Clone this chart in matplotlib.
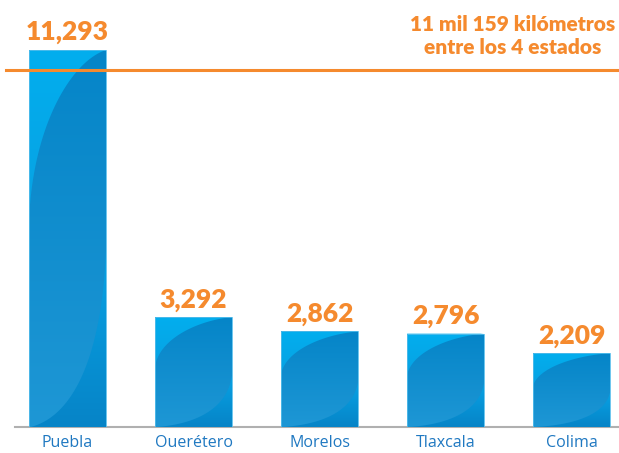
import numpy as np
import matplotlib.pyplot as plt
from matplotlib.patches import Polygon
from matplotlib.colors import LinearSegmentedColormap

estados = ["Puebla", "Ouerétero", "Morelos", "Tlaxcala", "Colima"]
km = [11293, 3292, 2862, 2796, 2209]
etiquetas = ["11,293", "3,292", "2,862", "2,796", "2,209"]
linea_ref = 10700
nota = "11 mil 159 kilómetros\nentre los 4 estados"

naranja = "#F58A2E"


def bezier(p0, p1, p2, p3, n=40):
    t = np.linspace(0, 1, n)[:, None]
    p0, p1, p2, p3 = map(np.array, (p0, p1, p2, p3))
    return (1 - t) ** 3 * p0 + 3 * (1 - t) ** 2 * t * p1 + 3 * (1 - t) * t ** 2 * p2 + t ** 3 * p3


# curvas del brillo, en coordenadas relativas de la barra (u, v)
curva_sup = bezier((1, 1), (0.55, 0.97), (0.05, 0.8), (0, 0.55))
curva_inf = bezier((1, 0.47), (0.95, 0.2), (0.6, 0.03), (0.02, 0))
zona_sup = np.vstack([[(0, 1)], curva_sup])
zona_inf = np.vstack([curva_inf, [(1, 0)]])


def relleno(ax, pts_rel, x0, w, h, v0, v1, c_abajo, c_arriba):
    pts = [(x0 + w * u, h * v) for u, v in pts_rel]
    poly = Polygon(pts, closed=True, fc="none", ec="none")
    ax.add_patch(poly)
    cmap = LinearSegmentedColormap.from_list("g", [c_abajo, c_arriba])
    img = ax.imshow(np.linspace(0, 1, 200).reshape(-1, 1), cmap=cmap,
                    extent=[x0, x0 + w, h * v0, h * v1], origin="lower",
                    aspect="auto", interpolation="bilinear", zorder=3)
    img.set_clip_path(poly)


fig = plt.figure(figsize=(6.19, 4.53), dpi=100)
ax = fig.add_axes([0, 26 / 453, 1, 427 / 453])

x = np.arange(len(estados))
ancho = 0.61
bars = ax.bar(x, km, width=ancho, color="none", zorder=2)

for b in bars:
    x0, w, h = b.get_x(), b.get_width(), b.get_height()
    caja = [(0, 0), (1, 0), (1, 1), (0, 1)]
    relleno(ax, caja, x0, w, h, 0, 1, "#1E97D5", "#0585C8")
    relleno(ax, zona_sup, x0, w, h, 0.55, 1, "#08A2E3", "#02AEEE")
    relleno(ax, zona_inf, x0, w, h, 0, 0.47, "#0684C7", "#08A3E5")
    ax.add_patch(Polygon([(x0 + w * u, h * v) for u, v in caja], closed=True,
                         fc="none", ec="#55BDEB", lw=0.6, zorder=4))

for xi, val, lab in zip(x, km, etiquetas):
    ax.annotate(lab, (xi, val), xytext=(0, 4), textcoords="offset points",
                ha="center", va="bottom", fontsize=19, fontweight="heavy",
                family="Lato", color=naranja)

ax.axhline(linea_ref, xmin=0.01, xmax=1, color=naranja, lw=2.2, zorder=5)
ax.text(3.535, 12330, nota, ha="center", va="top", multialignment="center",
        fontsize=15, fontweight="heavy", family="Lato", color=naranja,
        linespacing=1.2)

ax.set_xlim(-0.536, 4.377)
ax.set_ylim(0, 12791)
ax.set_xticks(x)
ax.set_xticklabels(estados, fontsize=11.5, color="#1f78c1", family="Open Sans")
ax.tick_params(axis="x", length=0, pad=6)
ax.set_yticks([])
for s in ["top", "right", "left"]:
    ax.spines[s].set_visible(False)
ax.spines["bottom"].set_color("#b0b0b0")
ax.spines["bottom"].set_linewidth(1.5)
ax.spines["bottom"].set_bounds(-0.42, 4.377)

fig.savefig("out.png", dpi=100)
